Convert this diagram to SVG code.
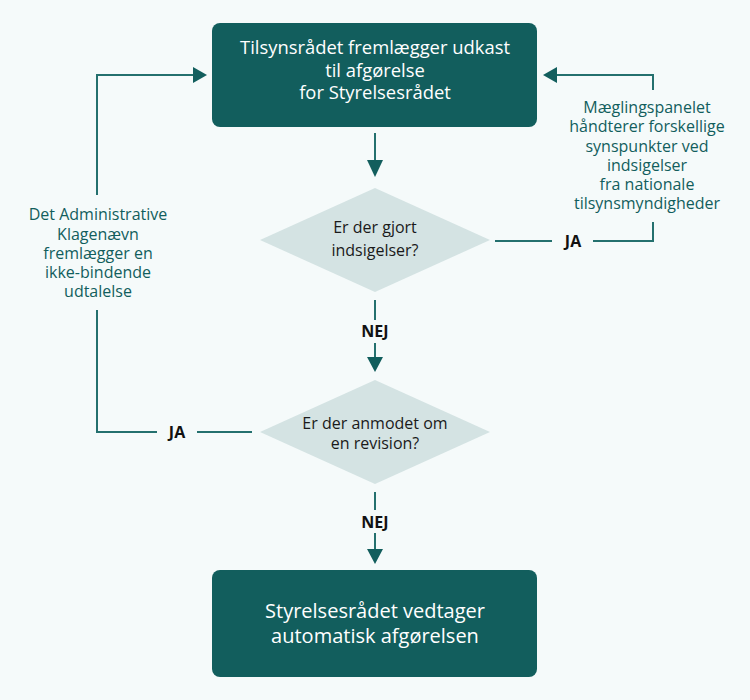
<svg xmlns="http://www.w3.org/2000/svg" width="750" height="700" viewBox="0 0 750 700">
<defs>
<style>
.box{fill:#125e5d}
.dia{fill:#d4e3e3}
.bt{font-family:"Open Sans","Noto Sans",sans-serif;fill:#ffffff;text-anchor:middle}
.dt{font-family:"Open Sans","Noto Sans",sans-serif;font-size:16px;fill:#1a1a1a;text-anchor:middle}
.lt{font-family:"Open Sans","Noto Sans",sans-serif;font-size:16px;fill:#125e5d;text-anchor:middle}
.yn{font-family:"Open Sans","Noto Sans",sans-serif;font-size:16px;font-weight:bold;fill:#111;text-anchor:middle}
.ln{fill:none;stroke:#24706e;stroke-width:2}
.ah{fill:#125e5d}
</style>
</defs>
<rect width="750" height="700" fill="#f5fafa"/>
<g id="connectors">
<line class="ln" x1="375" y1="133" x2="375" y2="161"/>
<polygon class="ah" points="367,160 383,160 375,177"/>
<line class="ln" x1="375" y1="300" x2="375" y2="320"/>
<line class="ln" x1="375" y1="343" x2="375" y2="358"/>
<polygon class="ah" points="367,357 383,357 375,372"/>
<line class="ln" x1="375" y1="492" x2="375" y2="510"/>
<line class="ln" x1="375" y1="533" x2="375" y2="550"/>
<polygon class="ah" points="367,549 383,549 375,564"/>
<polyline class="ln" points="495,241 552,241"/>
<polyline class="ln" points="593,241 653,241 653,222"/>
<polyline class="ln" points="653,90 653,75 556,75"/>
<polygon class="ah" points="543,75 557,67 557,83"/>
<polyline class="ln" points="252,432 197,432"/>
<polyline class="ln" points="157,432 97,432 97,310"/>
<polyline class="ln" points="97,195 97,75 194,75"/>
<polygon class="ah" points="207,75 193,67 193,83"/>
<text class="yn" x="573" y="247">JA</text>
<text class="yn" x="177" y="438">JA</text>
<text class="yn" x="375" y="337">NEJ</text>
<text class="yn" x="375" y="528">NEJ</text>
<text class="lt" x="647" y="113">Mæglingspanelet</text>
<text class="lt" x="647" y="132">håndterer forskellige</text>
<text class="lt" x="647" y="152">synspunkter ved</text>
<text class="lt" x="647" y="171">indsigelser</text>
<text class="lt" x="647" y="190">fra nationale</text>
<text class="lt" x="647" y="209">tilsynsmyndigheder</text>
<text class="lt" x="98" y="220">Det Administrative</text>
<text class="lt" x="98" y="240">Klagenævn</text>
<text class="lt" x="98" y="259">fremlægger en</text>
<text class="lt" x="98" y="278">ikke-bindende</text>
<text class="lt" x="98" y="297">udtalelse</text>
</g>
<g id="n1">
<rect class="box" x="212" y="23" width="325" height="104" rx="8"/>
<text class="bt" font-size="18.4" x="375" y="54">Tilsynsrådet fremlægger udkast</text>
<text class="bt" font-size="18.4" x="375" y="77">til afgørelse</text>
<text class="bt" font-size="18.4" x="375" y="99">for Styrelsesrådet</text>
</g>
<g id="n2">
<polygon class="dia" points="375,188 490,240 375,292 260,240"/>
<text class="dt" x="375" y="233">Er der gjort</text>
<text class="dt" x="375" y="256">indsigelser?</text>
</g>
<g id="n3">
<polygon class="dia" points="375,380 490,432 375,484 260,432"/>
<text class="dt" x="375" y="429">Er der anmodet om</text>
<text class="dt" x="375" y="449">en revision?</text>
</g>
<g id="n4">
<rect class="box" x="212" y="570" width="325" height="107" rx="8"/>
<text class="bt" font-size="20" x="375" y="618">Styrelsesrådet vedtager</text>
<text class="bt" font-size="20" x="375" y="643">automatisk afgørelsen</text>
</g>
</svg>
